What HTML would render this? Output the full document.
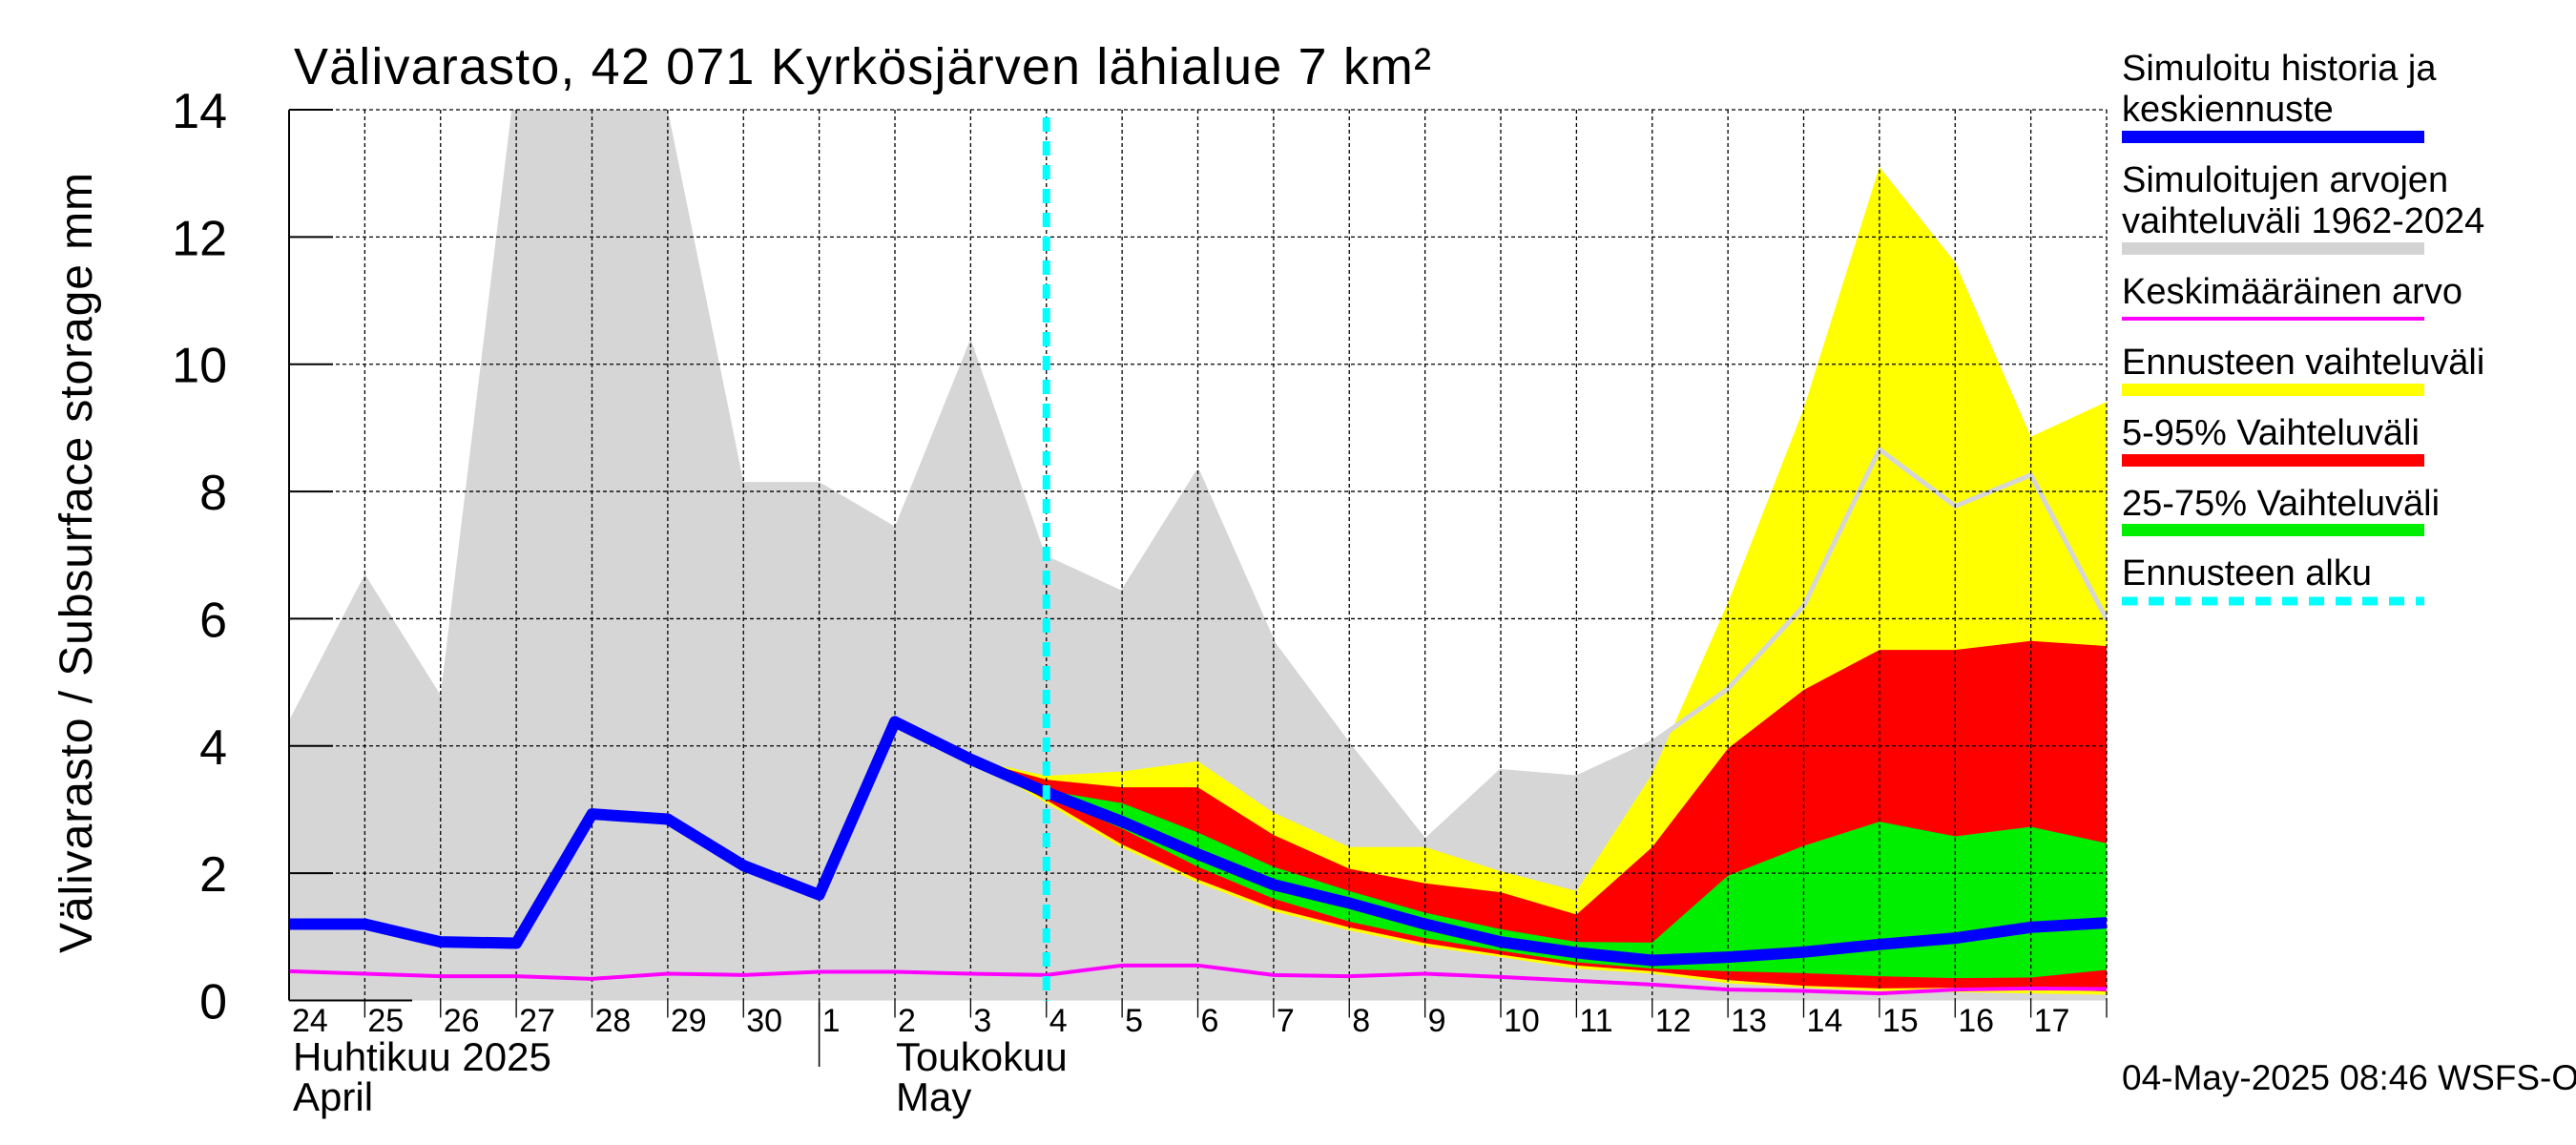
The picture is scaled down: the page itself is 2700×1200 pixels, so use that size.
<!DOCTYPE html>
<html><head><meta charset="utf-8"><style>
html,body{margin:0;padding:0;background:#fff}
svg{display:block;font-family:"Liberation Sans",Arial,sans-serif}
</style></head><body>
<svg id="chart" width="2700" height="1200" viewBox="0 0 2700 1200" xmlns="http://www.w3.org/2000/svg">
<text x="308" y="88" font-size="54" textLength="1192">Välivarasto, 42 071 Kyrkösjärven lähialue 7 km²</text>
<text transform="translate(96,590) rotate(-90)" text-anchor="middle" font-size="48" textLength="818">Välivarasto / Subsurface storage  mm</text>
<g id="plot"></g>
<g id="legend">
<text x="2224" y="84" font-size="38">Simuloitu historia ja</text>
<text x="2224" y="127" font-size="38">keskiennuste</text>
<rect x="2224" y="137" width="317" height="13" fill="#0000ff"/>
<text x="2224" y="201" font-size="38">Simuloitujen arvojen</text>
<text x="2224" y="244" font-size="38">vaihteluväli 1962-2024</text>
<rect x="2224" y="254" width="317" height="13" fill="#d3d3d3"/>
<text x="2224" y="318" font-size="38">Keskimääräinen arvo</text>
<rect x="2224" y="332" width="317" height="4" fill="#ff00ff"/>
<text x="2224" y="392" font-size="38">Ennusteen vaihteluväli</text>
<rect x="2224" y="402" width="317" height="13" fill="#ffff00"/>
<text x="2224" y="466" font-size="38">5-95% Vaihteluväli</text>
<rect x="2224" y="476" width="317" height="13" fill="#ff0000"/>
<text x="2224" y="540" font-size="38">25-75% Vaihteluväli</text>
<rect x="2224" y="549" width="317" height="13" fill="#00ee00"/>
<text x="2224" y="613" font-size="38">Ennusteen alku</text>
<line x1="2224" y1="630" x2="2541" y2="630" stroke="#00ffff" stroke-width="9" stroke-dasharray="16,12"/>
</g>
<text x="2224" y="1142" font-size="37">04-May-2025 08:46 WSFS-O</text>
</svg>
<script>
const dayLabels=["24","25","26","27","28","29","30","1","2","3","4","5","6","7","8","9","10","11","12","13","14","15","16","17"];
const yTicks=[0,2,4,6,8,10,12,14];
const grayMax=[4.4,6.7,4.8,16,16,14.0,8.15,8.15,7.45,10.4,6.95,6.4,8.3,5.6,4.0,2.5,3.6,3.5,4.05,4.9,6.2,8.66,7.77,8.26,5.99];
const grayMin=[0,0,0,0,0,0,0,0,0,0,0,0,0,0,0,0,0,0,0,0,0,0,0,0,0];
const blueLine=[1.2,1.2,0.92,0.9,2.93,2.85,2.12,1.66,4.38,3.79,3.27,2.81,2.3,1.82,1.53,1.2,0.92,0.75,0.63,0.68,0.76,0.88,0.98,1.15,1.22];
const meanLine=[0.46,0.42,0.38,0.38,0.34,0.42,0.40,0.45,0.45,0.42,0.40,0.55,0.55,0.4,0.38,0.42,0.37,0.31,0.25,0.17,0.15,0.11,0.17,0.19,0.18];
const fcStart=9;
const yelMax=[3.79,3.53,3.6,3.76,2.95,2.41,2.41,2.03,1.72,3.56,6.25,9.3,13.1,11.6,8.86,9.41];
const redMax=[3.79,3.47,3.35,3.35,2.6,2.07,1.84,1.7,1.35,2.41,3.96,4.88,5.51,5.51,5.65,5.57];
const grnMax=[3.79,3.3,3.1,2.64,2.1,1.72,1.38,1.12,0.92,0.91,1.96,2.43,2.81,2.58,2.73,2.47];
const grnMin=[3.79,3.2,2.7,2.1,1.6,1.24,0.98,0.78,0.6,0.5,0.46,0.43,0.38,0.35,0.36,0.48];
const redMin=[3.79,3.15,2.45,1.9,1.45,1.15,0.9,0.72,0.55,0.46,0.32,0.23,0.19,0.2,0.19,0.14];
const yelMin=[3.79,3.1,2.4,1.85,1.4,1.1,0.85,0.68,0.5,0.42,0.27,0.2,0.15,0.13,0.11,0.09];
const fcLineIdx=10;

const L=303,R=2208,T=115,B=1048.5;
const X=i=>L+(R-L)*i/24;
const Y=v=>B-(B-T)*Math.min(v,14.6)/14;
const NS="http://www.w3.org/2000/svg";
const plot=document.getElementById('plot');
function mk(tag,attrs){const e=document.createElementNS(NS,tag);for(const k in attrs)e.setAttribute(k,attrs[k]);plot.appendChild(e);return e;}
const clip=document.createElementNS(NS,'clipPath');clip.setAttribute('id','pc');
const cr=document.createElementNS(NS,'rect');cr.setAttribute('x',L);cr.setAttribute('y',T);cr.setAttribute('width',R-L);cr.setAttribute('height',B-T+6);clip.appendChild(cr);plot.appendChild(clip);
function band(up,lo,off,fill,name){
  let d='';up.forEach((v,k)=>{d+=(k?'L':'M')+X(k+off)+','+Y(v);});
  for(let k=lo.length-1;k>=0;k--)d+='L'+X(k+off)+','+Y(lo[k]);
  const p=mk('path',{d:d+'Z',fill:fill,'clip-path':'url(#pc)'});
  
  
}
function line(vals,off,stroke,w,name){
  const pts=vals.map((v,k)=>X(k+off)+','+Y(v)).join(' ');
  const p=mk('polyline',{points:pts,fill:'none',stroke:stroke,'stroke-width':w,'stroke-linejoin':'round','clip-path':'url(#pc)'});
  
  
}
band(grayMax,grayMin,0,'#d6d6d6','historical-range-area');
band(yelMax,yelMin,fcStart,'#ffff00','forecast-range-area');
band(redMax,redMin,fcStart,'#ff0000','band-5-95');
band(grnMax,grnMin,fcStart,'#00ee00','band-25-75');
line(grayMax.slice(fcLineIdx),fcLineIdx,'#d6d6d6',5,'historical-max-line');
for(let i=1;i<=24;i++){
  const g=mk('line',{x1:X(i),y1:T,x2:X(i),y2:B,stroke:'#000','stroke-width':1.3,'stroke-dasharray':'4,3'});
  
  
  const t=mk('line',{x1:X(i),y1:B,x2:X(i),y2:B+18,stroke:'#000','stroke-width':1.3});
  
  
}
yTicks.forEach(v=>{
  if(v>0){const g=mk('line',{x1:L,y1:Y(v),x2:R,y2:Y(v),stroke:'#000','stroke-width':1.3,'stroke-dasharray':'4,3'});
  
  
  const t=mk('line',{x1:L,y1:Y(v),x2:L+46,y2:Y(v),stroke:'#000','stroke-width':2});
  
  }
  const tx=mk('text',{x:238,y:Y(v)+19,'font-size':52,'text-anchor':'end'});tx.textContent=v;
  
  
});
line(meanLine,0,'#ff00ff',4,'mean-line');
line(blueLine,0,'#0000ff',12,'simulated-median-line');
const fc=mk('line',{x1:X(fcLineIdx),y1:T+8,x2:X(fcLineIdx),y2:B,stroke:'#00ffff','stroke-width':8,'stroke-dasharray':'15,10'});


const ax=mk('line',{x1:L,y1:T,x2:L,y2:B,stroke:'#000','stroke-width':2});


const bl=mk('line',{x1:L,y1:B,x2:432,y2:B,stroke:'#000','stroke-width':2});


dayLabels.forEach((s,i)=>{
  const t=mk('text',{x:X(i)+3,y:1081,'font-size':34});t.textContent=s;
  
  
});
const sep=mk('line',{x1:X(7),y1:B+2,x2:X(7),y2:1118,stroke:'#000','stroke-width':1.5});


[["Huhtikuu  2025",307,1122],["April",307,1164],["Toukokuu",939,1122],["May",939,1164]].forEach(a=>{
  const t=mk('text',{x:a[1],y:a[2],'font-size':42,'xml:space':'preserve'});t.textContent=a[0];
  
  
});
</script>
</body></html>
